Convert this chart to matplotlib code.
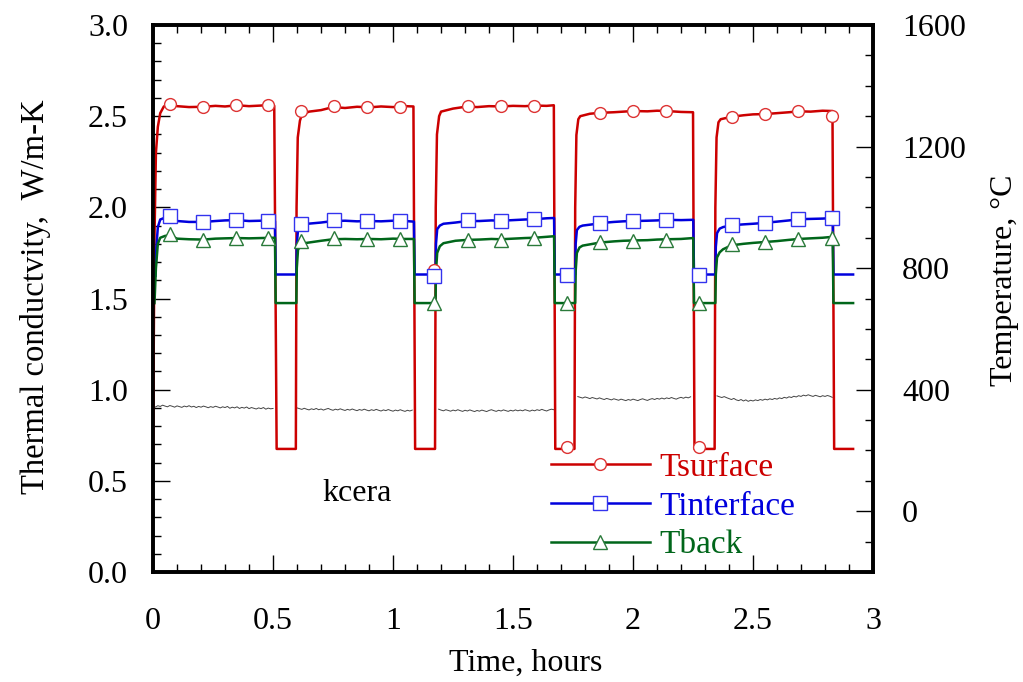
import numpy as np
import matplotlib
matplotlib.use("Agg")
import matplotlib.pyplot as plt
from matplotlib.lines import Line2D
from matplotlib.ticker import MultipleLocator, FormatStrFormatter

plt.rcParams['font.family'] = ['Liberation Serif', 'DejaVu Serif']

# ---- temperature traces (hours, degC) ----
red_t = [0.000, 0.006, 0.012, 0.020, 0.030, 0.045, 0.070, 0.10, 0.15, 0.21, 0.26, 0.30, 0.35, 0.40, 0.45, 0.48, 0.505, 0.515, 0.595,
         0.598, 0.603, 0.612, 0.62, 0.65, 0.70, 0.75, 0.80, 0.85, 0.90, 0.95, 1.00, 1.05, 1.085, 1.092, 1.175,
         1.178, 1.183, 1.192, 1.20, 1.25, 1.31, 1.35, 1.40, 1.45, 1.50, 1.55, 1.59, 1.64, 1.670, 1.676, 1.756,
         1.759, 1.764, 1.772, 1.78, 1.82, 1.86, 1.92, 1.96, 2.00, 2.06, 2.10, 2.14, 2.20, 2.250, 2.256, 2.340,
         2.343, 2.348, 2.356, 2.365, 2.41, 2.46, 2.50, 2.55, 2.60, 2.65, 2.69, 2.74, 2.79, 2.831, 2.838, 2.917]
red_T = [205, 900, 1180, 1265, 1310, 1332, 1340, 1333, 1330, 1331, 1334, 1332, 1336, 1333, 1335, 1337, 1334, 205, 205,
         1000, 1230, 1285, 1305, 1315, 1320, 1330, 1327, 1331, 1329, 1332, 1330, 1333, 1332, 205, 205,
         1000, 1240, 1300, 1315, 1325, 1332, 1330, 1333, 1332, 1334, 1333, 1335, 1334, 1336, 205, 205,
         1000, 1238, 1290, 1300, 1308, 1311, 1313, 1315, 1317, 1316, 1318, 1317, 1314, 1313, 205, 205,
         1000, 1230, 1280, 1290, 1298, 1303, 1306, 1307, 1310, 1313, 1316, 1315, 1318, 1317, 205, 205]

blue_t = [0.010, 0.014, 0.020, 0.030, 0.050, 0.070, 0.10, 0.15, 0.21, 0.26, 0.30, 0.35, 0.40, 0.45, 0.508, 0.511, 0.597,
          0.599, 0.604, 0.615, 0.63, 0.70, 0.75, 0.80, 0.85, 0.90, 0.95, 1.00, 1.05, 1.087, 1.090, 1.177,
          1.179, 1.184, 1.195, 1.21, 1.26, 1.31, 1.36, 1.41, 1.45, 1.50, 1.55, 1.59, 1.64, 1.671, 1.674, 1.759,
          1.761, 1.766, 1.777, 1.79, 1.84, 1.86, 1.92, 1.96, 2.00, 2.06, 2.10, 2.14, 2.20, 2.251, 2.254, 2.343,
          2.345, 2.350, 2.361, 2.375, 2.41, 2.46, 2.50, 2.55, 2.60, 2.65, 2.69, 2.74, 2.79, 2.832, 2.835, 2.917]
blue_T = [775, 870, 935, 960, 966, 970, 955, 952, 952, 955, 957, 958, 955, 956, 955, 779, 779,
          880, 925, 938, 945, 950, 955, 956, 954, 955, 954, 956, 955, 953, 779, 779,
          880, 928, 940, 946, 950, 955, 955, 957, 956, 958, 960, 961, 964, 965, 779, 779,
          880, 925, 936, 940, 945, 948, 952, 954, 955, 956, 957, 959, 958, 959, 779, 779,
          870, 915, 930, 935, 941, 944, 946, 949, 953, 957, 961, 962, 963, 965, 779, 779]

green_t = [0.006, 0.012, 0.020, 0.030, 0.050, 0.070, 0.10, 0.15, 0.21, 0.26, 0.30, 0.35, 0.40, 0.45, 0.508, 0.511, 0.597,
           0.599, 0.604, 0.615, 0.63, 0.70, 0.75, 0.80, 0.85, 0.90, 0.95, 1.00, 1.05, 1.087, 1.090, 1.177,
           1.179, 1.184, 1.195, 1.21, 1.26, 1.31, 1.36, 1.41, 1.45, 1.50, 1.55, 1.59, 1.64, 1.671, 1.674, 1.759,
           1.761, 1.766, 1.777, 1.79, 1.84, 1.86, 1.92, 1.96, 2.00, 2.06, 2.10, 2.14, 2.20, 2.251, 2.254, 2.343,
           2.345, 2.350, 2.361, 2.375, 2.41, 2.46, 2.50, 2.55, 2.60, 2.65, 2.69, 2.74, 2.79, 2.832, 2.835, 2.917]
green_T = [685, 800, 880, 900, 906, 908, 897, 895, 894, 897, 898, 899, 898, 899, 900, 685, 685,
           800, 860, 875, 882, 890, 895, 896, 895, 896, 895, 897, 896, 896, 685, 685,
           790, 850, 872, 882, 890, 893, 894, 896, 895, 897, 899, 900, 903, 905, 685, 685,
           790, 850, 868, 874, 881, 884, 888, 890, 891, 892, 894, 895, 896, 899, 685, 685,
           780, 835, 852, 862, 875, 880, 883, 886, 889, 893, 896, 898, 900, 903, 685, 685]

# marker samples
mark_t = [0.071, 0.208, 0.346, 0.479, 0.617, 0.754, 0.892, 1.029, 1.170, 1.3125, 1.45,
          1.5875, 1.725, 1.8625, 2.0, 2.1375, 2.275, 2.4125, 2.55, 2.6875, 2.829]
red_mk = [1340, 1331, 1337, 1337, 1317, 1333, 1330, 1330, 794, 1333, 1333,
          1333, 211, 1311, 1317, 1317, 211, 1298, 1307, 1317, 1301]
blue_mk = [972, 952, 959, 955, 945, 959, 955, 955, 774, 959, 955,
           962, 777, 949, 955, 959, 777, 942, 949, 962, 965]
green_mk = [912, 893, 899, 899, 889, 899, 896, 896, 685, 893, 893,
            899, 685, 886, 889, 893, 685, 880, 886, 896, 899]

# ---- thermal conductivity (W/m-K), one list per heating cycle ----
k_start = [0.01, 0.60, 1.19, 1.77, 2.35]
k_vals = [
    [0.905, 0.912, 0.908, 0.915, 0.910, 0.906, 0.913, 0.909, 0.904, 0.911, 0.907, 0.903, 0.910, 0.906, 0.912, 0.905,
     0.909, 0.902, 0.908, 0.904, 0.910, 0.906, 0.901, 0.907, 0.903, 0.909, 0.905, 0.900, 0.906, 0.902, 0.908, 0.898,
     0.904, 0.900, 0.906, 0.897, 0.903, 0.899, 0.905, 0.896, 0.902, 0.898, 0.894, 0.900, 0.896, 0.902, 0.893, 0.899,
     0.895, 0.897],
    [0.900, 0.896, 0.892, 0.898, 0.893, 0.889, 0.895, 0.891, 0.897, 0.890, 0.894, 0.888, 0.893, 0.897, 0.891, 0.887,
     0.893, 0.889, 0.895, 0.890, 0.886, 0.892, 0.888, 0.894, 0.889, 0.885, 0.891, 0.887, 0.893, 0.888, 0.884, 0.890,
     0.886, 0.892, 0.887, 0.883, 0.889, 0.885, 0.891, 0.886, 0.882, 0.888, 0.884, 0.890, 0.885, 0.881, 0.887, 0.883,
     0.888],
    [0.893, 0.888, 0.884, 0.890, 0.886, 0.882, 0.888, 0.884, 0.890, 0.885, 0.881, 0.887, 0.883, 0.889, 0.884, 0.880,
     0.886, 0.882, 0.888, 0.884, 0.880, 0.886, 0.890, 0.885, 0.881, 0.887, 0.883, 0.889, 0.885, 0.881, 0.887, 0.883,
     0.889, 0.884, 0.888, 0.884, 0.890, 0.886, 0.882, 0.888, 0.884, 0.890, 0.886, 0.892, 0.887, 0.883, 0.889, 0.893,
     0.890],
    [0.962, 0.958, 0.954, 0.960, 0.956, 0.951, 0.957, 0.953, 0.949, 0.955, 0.950, 0.946, 0.952, 0.948, 0.944, 0.950,
     0.946, 0.942, 0.948, 0.944, 0.940, 0.946, 0.942, 0.948, 0.944, 0.940, 0.946, 0.950, 0.945, 0.941, 0.947, 0.951,
     0.946, 0.952, 0.948, 0.954, 0.949, 0.955, 0.951, 0.957, 0.952, 0.948, 0.954, 0.958, 0.953, 0.959, 0.955, 0.961],
    [0.966, 0.961, 0.957, 0.962, 0.956, 0.951, 0.946, 0.952, 0.944, 0.940, 0.946, 0.938, 0.944, 0.936, 0.942, 0.938,
     0.944, 0.940, 0.946, 0.942, 0.948, 0.944, 0.950, 0.946, 0.952, 0.948, 0.955, 0.951, 0.958, 0.954, 0.961, 0.957,
     0.964, 0.960, 0.967, 0.963, 0.970, 0.966, 0.972, 0.967, 0.963, 0.969, 0.965, 0.961, 0.967, 0.963, 0.968, 0.964,
     0.958],
]

RED = '#cc0000'
BLUE = '#0000dd'
GREEN = '#00661a'
FS = 23

fig = plt.figure(figsize=(10.23, 6.82), dpi=100)
ax = fig.add_axes([0.1496, 0.1613, 0.7038, 0.802])
ax2 = ax.twinx()

# conductivity on left axis
for t0, vals in zip(k_start, k_vals):
    tt = t0 + 0.01 * np.arange(len(vals))
    ax.plot(tt, vals, color='#444444', lw=0.7)

# temperatures on right axis
ax2.plot(red_t, red_T, color=RED, lw=1.8)
ax2.plot(blue_t, blue_T, color=BLUE, lw=1.8)
ax2.plot(green_t, green_T, color=GREEN, lw=1.8)
mk_red = dict(marker='o', ms=8.5, mfc='white', mec='#dd3333', mew=1.0)
mk_blue = dict(marker='s', ms=10, mfc='white', mec='#3333ee', mew=1.0)
mk_green = dict(marker='^', ms=10.5, mfc='white', mec='#2a7a3a', mew=1.0)
ax2.plot(mark_t, red_mk, ls='none', **mk_red)
ax2.plot(mark_t, blue_mk, ls='none', **mk_blue)
ax2.plot(mark_t, green_mk, ls='none', **mk_green)

ax.set_xlim(0, 3)
ax.set_ylim(0, 3.0)
ax2.set_ylim(-200, 1600)

ax.xaxis.set_major_locator(MultipleLocator(0.5))
ax.xaxis.set_minor_locator(MultipleLocator(0.1))
ax.yaxis.set_major_locator(MultipleLocator(0.5))
ax.yaxis.set_minor_locator(MultipleLocator(0.1))
ax.yaxis.set_major_formatter(FormatStrFormatter('%.1f'))
ax.xaxis.set_major_formatter(plt.FuncFormatter(lambda v, p: '%g' % v))
ax2.yaxis.set_major_locator(MultipleLocator(400))
ax2.yaxis.set_minor_locator(MultipleLocator(100))

ax.tick_params(which='both', direction='in', top=True, right=False, labelsize=FS, width=1.0)
ax.tick_params(which='major', length=12)
ax.tick_params(which='minor', length=6)
ax.tick_params(axis='x', which='major', pad=25)
ax.tick_params(axis='y', which='major', pad=18)
ax2.tick_params(which='both', direction='in', left=False, right=True, labelsize=FS, width=1.0)
ax2.tick_params(which='major', length=12, pad=21)
ax2.tick_params(which='minor', length=6)

for a in (ax, ax2):
    for s in a.spines.values():
        s.set_linewidth(2.6)

ax.set_xlabel('Time, hours', fontsize=FS)
ax.set_ylabel('Thermal conductvity,  W/m-K', fontsize=FS + 0.5)
ax2.set_ylabel('Temperature, \u00b0C', fontsize=FS)
ax.xaxis.set_label_coords(0.517, -0.140)
ax.yaxis.set_label_coords(-0.142, 0.504)
ax2.yaxis.set_label_coords(1.162, 0.534)

ax.text(0.85, 0.43, 'kcera', fontsize=FS, ha='center', va='center')

handles = [Line2D([], [], color=RED, lw=1.8, **mk_red),
           Line2D([], [], color=BLUE, lw=1.8, **mk_blue),
           Line2D([], [], color=GREEN, lw=1.8, **mk_green)]
leg = ax2.legend(handles, ['Tsurface', 'Tinterface', 'Tback'], loc='upper left',
                 bbox_to_anchor=(0.553, 0.219), frameon=False, fontsize=24, numpoints=1,
                 handlelength=2.95, handletextpad=0.3, labelspacing=0.25, borderpad=0, borderaxespad=0)
for txt, c in zip(leg.get_texts(), [RED, BLUE, GREEN]):
    txt.set_color(c)

fig.savefig('out.png', dpi=100)
